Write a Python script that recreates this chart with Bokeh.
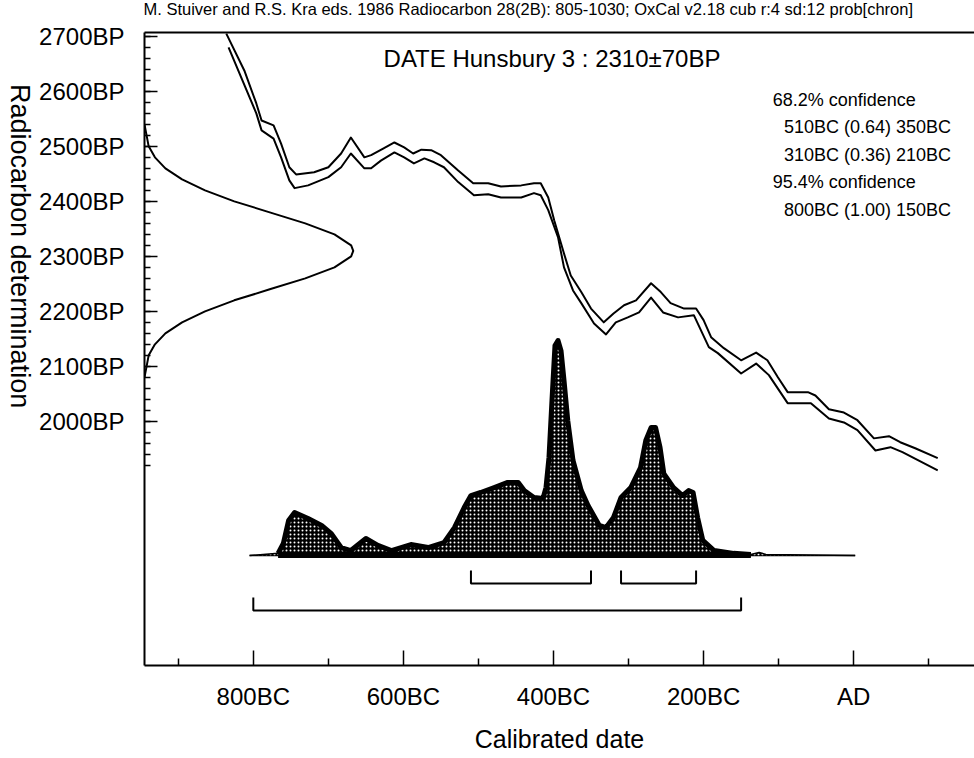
import math
from bokeh.plotting import figure
from bokeh.layouts import row, column
from bokeh.models import Range1d, LinearAxis, FixedTicker, Label
from bokeh.embed import file_html
from bokeh.resources import INLINE

# ---------------- data ----------------
# calibration curve, upper edge (year AD, negative = BC ; radiocarbon BP)
cal_upper_year = [-836, -812, -796, -789, -773, -763, -752, -743, -719, -700, -683, -670,
                  -652, -643, -627, -612, -599, -587, -576, -563, -550, -527, -507, -487,
                  -470, -443, -426, -417, -407, -399, -386, -377, -363, -350, -333, -320,
                  -306, -290, -270, -257, -244, -226, -210, -200, -190, -173, -150, -130,
                  -115, -101, -88, -61, -51, -33, -13, 5, 27, 47, 62, 82, 112]
cal_upper_bp = [2705, 2638, 2578, 2547, 2538, 2505, 2462, 2449, 2453, 2462, 2487, 2516,
                2480, 2484, 2496, 2507, 2498, 2487, 2494, 2493, 2484, 2456, 2433, 2433,
                2427, 2429, 2433, 2433, 2407, 2365, 2305, 2265, 2235, 2205, 2180, 2196,
                2211, 2220, 2251, 2235, 2215, 2205, 2205, 2184, 2153, 2133, 2111, 2125,
                2111, 2080, 2053, 2053, 2047, 2022, 2016, 2002, 1969, 1973, 1962, 1951, 1933]
# calibration curve, lower edge
cal_lower_year = [-833, -796, -789, -773, -763, -752, -745, -727, -700, -683, -670, -652,
                  -643, -630, -612, -599, -586, -572, -559, -546, -527, -506, -487, -470,
                  -443, -426, -417, -407, -394, -386, -374, -363, -346, -330, -317, -301,
                  -286, -270, -254, -234, -213, -193, -181, -150, -130, -113, -88, -57,
                  -33, -13, 5, 29, 49, 65, 112]
cal_lower_bp = [2680, 2560, 2529, 2514, 2480, 2438, 2424, 2429, 2444, 2462, 2487, 2460,
                2460, 2474, 2489, 2480, 2469, 2478, 2471, 2462, 2435, 2411, 2413, 2407,
                2407, 2415, 2411, 2384, 2335, 2280, 2238, 2215, 2178, 2158, 2180, 2189,
                2198, 2225, 2198, 2189, 2193, 2135, 2124, 2087, 2105, 2084, 2033, 2033,
                2005, 1998, 1984, 1947, 1953, 1944, 1911]

# measured date 2310+-70 BP, relative probability drawn against the BP axis
meas_bp = [2540, 2520, 2500, 2480, 2460, 2440, 2420, 2400, 2380, 2360, 2340, 2320, 2310,
           2300, 2280, 2260, 2240, 2220, 2200, 2180, 2160, 2140, 2120, 2100, 2080]
meas_prob = [0.0, 0.01, 0.02, 0.05, 0.10, 0.18, 0.29, 0.43, 0.60, 0.77, 0.91, 0.99, 1.0,
             0.99, 0.91, 0.77, 0.60, 0.43, 0.29, 0.18, 0.10, 0.05, 0.02, 0.01, 0.0]

# calibrated distribution (relative probability against calendar year)
cal_dist_year = [-805, -787, -767, -760, -753, -745, -727, -709, -696, -683, -670, -650,
                 -634, -616, -590, -567, -546, -532, -519, -510, -497, -479, -461, -447,
                 -439, -426, -414, -410, -406, -402, -398, -394, -390, -386, -381, -374,
                 -363, -354, -339, -330, -320, -310, -297, -284, -277, -270, -264, -258,
                 -253, -240, -228, -220, -214, -208, -201, -186, -160, -137, -126, -117, 2]
cal_dist_prob = [0.0, 0.005, 0.01, 0.056, 0.163, 0.2, 0.172, 0.14, 0.102, 0.037, 0.023, 0.079,
                 0.047, 0.023, 0.051, 0.037, 0.06, 0.13, 0.223, 0.279, 0.293, 0.316, 0.34, 0.34,
                 0.302, 0.27, 0.265, 0.316, 0.456, 0.721, 0.977, 1.0, 0.953, 0.814, 0.628, 0.442,
                 0.302, 0.233, 0.14, 0.13, 0.177, 0.27, 0.316, 0.409, 0.535, 0.595, 0.595, 0.502,
                 0.381, 0.316, 0.279, 0.302, 0.293, 0.177, 0.07, 0.023, 0.01, 0.005, 0.014, 0.005, 0.0]

# confidence ranges
range68_from = [-510, -310]
range68_to = [-350, -210]
range95_from = [-800]
range95_to = [-150]

header_text = ("M. Stuiver and R.S. Kra eds. 1986 Radiocarbon 28(2B): 805-1030;  "
               "OxCal v2.18 cub r:4 sd:12 prob[chron]")
title_text = "DATE Hunsbury 3 : 2310\u00b170BP"
y_title = "Radiocarbon determination"
x_title = "Calibrated date"
conf_lines = ["68.2% confidence", "510BC (0.64) 350BC", "310BC (0.36) 210BC",
              "95.4% confidence", "800BC (1.00) 150BC"]
conf_indent = [False, True, True, False, True]

y_ticks = [2000, 2100, 2200, 2300, 2400, 2500, 2600, 2700]
y_tick_labels = ["2000BP", "2100BP", "2200BP", "2300BP", "2400BP", "2500BP", "2600BP", "2700BP"]
y_minor_ticks = list(range(1920, 2701, 20))
x_ticks = [-800, -600, -400, -200, 0]
x_tick_labels = ["800BC", "600BC", "400BC", "200BC", "AD"]
x_minor_ticks = [-900, -700, -500, -300, -100, 100]

FONT = "Liberation Sans"


def bare(width, height):
    f = figure(width=width, height=height, x_range=Range1d(0, width), y_range=Range1d(0, height),
               output_backend="svg", toolbar_location=None,
               x_axis_location=None, y_axis_location=None,
               min_border_left=0, min_border_right=0, min_border_top=0, min_border_bottom=0)
    f.grid.visible = False
    f.outline_line_color = None
    return f


# ---------------- header strip ----------------
head = bare(974, 20)
head.add_layout(Label(x=143, y=12, text=header_text, text_font=FONT, text_font_size="16.5px",
                      text_baseline="middle", text_color="black"))

# ---------------- strip carrying the vertical axis title ----------------
lab = bare(36, 738)
lab.add_layout(Label(x=19, y=489, text=y_title, angle=-math.pi / 2,
                     text_font=FONT, text_font_size="27px", text_align="center",
                     text_baseline="middle", text_color="black"))

# ---------------- main figure ----------------
p = figure(width=938, height=738,
           x_range=Range1d(-945, 161), y_range=Range1d(1556, 2707),
           output_backend="svg", toolbar_location=None,
           x_axis_location=None, y_axis_location=None,
           min_border_left=107, min_border_right=0, min_border_top=12, min_border_bottom=93)
p.grid.visible = False
p.outline_line_color = None
p.background_fill_color = "white"
p.border_fill_color = "white"

p.extra_x_ranges = {"meas": Range1d(0, 3.976)}
p.extra_y_ranges = {"prob": Range1d(-0.5116, 2.4326)}

yax = LinearAxis(ticker=FixedTicker(ticks=y_ticks, minor_ticks=y_minor_ticks),
                 major_label_overrides=dict(zip(y_ticks, y_tick_labels)))
yax.major_tick_in = 13
yax.major_tick_out = 0
yax.minor_tick_in = 6
yax.minor_tick_out = 0
yax.axis_line_width = 2
yax.major_tick_line_width = 1.5
yax.minor_tick_line_width = 1.5
yax.major_label_standoff = 20
yax.major_label_text_font = FONT
yax.major_label_text_font_size = "24px"
yax.major_label_text_color = "black"
p.add_layout(yax, "left")

xax = LinearAxis(ticker=FixedTicker(ticks=x_ticks, minor_ticks=x_minor_ticks),
                 major_label_overrides=dict(zip(x_ticks, x_tick_labels)))
xax.major_tick_in = 15
xax.major_tick_out = 0
xax.minor_tick_in = 7
xax.minor_tick_out = 0
xax.axis_line_width = 2
xax.major_tick_line_width = 1.5
xax.minor_tick_line_width = 1.5
xax.major_label_standoff = 17
xax.major_label_text_font = FONT
xax.major_label_text_font_size = "24px"
xax.major_label_text_color = "black"
xax.axis_label = x_title
xax.axis_label_standoff = 12
xax.axis_label_text_font = FONT
xax.axis_label_text_font_size = "25px"
xax.axis_label_text_font_style = "normal"
xax.axis_label_text_color = "black"
p.add_layout(xax, "below")

tax = LinearAxis(ticker=FixedTicker(ticks=[]))
tax.major_tick_in = 0
tax.major_tick_out = 0
tax.minor_tick_in = 0
tax.minor_tick_out = 0
tax.major_label_text_font_size = "0px"
tax.major_label_standoff = 0
tax.axis_line_width = 2
p.add_layout(tax, "above")

# calibration curve
p.line(cal_upper_year, cal_upper_bp, line_color="black", line_width=2, line_join="round")
p.line(cal_lower_year, cal_lower_bp, line_color="black", line_width=2, line_join="round")

# measured date distribution on the BP axis
p.line(meas_prob, meas_bp, x_range_name="meas", line_color="black", line_width=2,
       line_join="round")

# calibrated distribution: thin baseline, stippled body, heavy outline on the main part
core = slice(2, -3)
p.line([cal_dist_year[0], cal_dist_year[-1]], [0, 0], y_range_name="prob",
       line_color="black", line_width=1.5)
p.patch(cal_dist_year, cal_dist_prob, y_range_name="prob",
        fill_color="black", hatch_pattern=".", hatch_color="white",
        hatch_scale=4, hatch_weight=1, line_color=None)
p.line(cal_dist_year, cal_dist_prob, y_range_name="prob",
       line_color="black", line_width=1.5)
p.line(cal_dist_year[core], cal_dist_prob[core], y_range_name="prob",
       line_color="black", line_width=5, line_join="round")
p.line([cal_dist_year[core][0], cal_dist_year[core][-1]], [0, 0], y_range_name="prob",
       line_color="black", line_width=5)

# confidence brackets
br_x, br_y = [], []
for a, b in zip(range68_from, range68_to):
    br_x.append([a, a, b, b])
    br_y.append([-0.07, -0.13, -0.13, -0.07])
for a, b in zip(range95_from, range95_to):
    br_x.append([a, a, b, b])
    br_y.append([-0.195, -0.256, -0.256, -0.195])
p.multi_line(br_x, br_y, y_range_name="prob", line_color="black", line_width=2)

# texts inside the frame
p.add_layout(Label(x=-402, y=2660, text=title_text, text_font=FONT, text_font_size="24px",
                   text_align="center", text_baseline="middle", text_color="black"))
conf_y = [2585, 2534.5, 2485, 2434.5, 2385]
for t, ind, yy in zip(conf_lines, conf_indent, conf_y):
    p.add_layout(Label(x=(-93 if ind else -108), y=yy, text=t, text_font=FONT,
                       text_font_size="18px", text_baseline="middle", text_color="black"))

layout = column(head, row(lab, p, spacing=0), spacing=0)
open("out.html", "w").write(file_html(layout, INLINE))
